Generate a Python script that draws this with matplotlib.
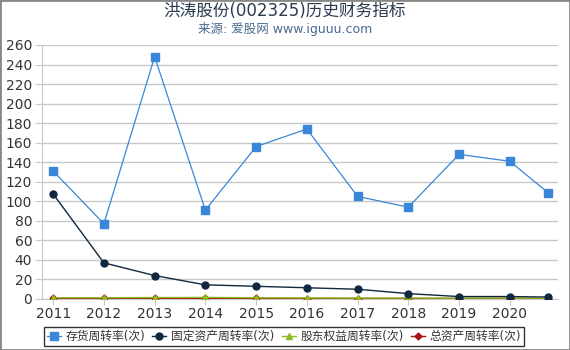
import matplotlib.pyplot as plt
from matplotlib.patches import Rectangle

plt.rcParams['font.family'] = ['DejaVu Sans', 'Noto Sans CJK SC']

years = ['2011', '2012', '2013', '2014', '2015', '2016', '2017', '2018', '2019', '2020']
# last point sits at roughly 2020-09-30
x_pos = [0, 1, 2, 3, 4, 5, 6, 7, 8, 9, 9.75]

inventory = [131, 77, 248, 91, 156, 174, 105, 94, 148, 141, 109]
fixed_assets = [107.5, 37, 24, 14.5, 13, 11.5, 10, 5.5, 2.5, 2.5, 2]
equity = [1.3, 1.3, 1.5, 1.6, 1.3, 1.1, 1.0, 1.0, 0.9, 0.9, 0.8]
total_assets = [0.6, 0.6, 0.7, 0.7, 0.6, 0.5, 0.5, 0.5, 0.5, 0.5, 0.4]

fig = plt.figure(figsize=(5.7, 3.5), dpi=100)
ax = fig.add_axes([42 / 570, 51 / 350, (558 - 42) / 570, (299 - 45) / 350])

ax.plot(x_pos, total_assets, color='#aa1111', marker='D', markersize=3.5, lw=1,
        label='总资产周转率(次)', zorder=3)
ax.plot(x_pos, equity, color='#8dbb22', marker='^', markersize=5, lw=1,
        label='股东权益周转率(次)', zorder=4)
ax.plot(x_pos, fixed_assets, color='#102840', marker='o', markersize=5, lw=1,
        label='固定资产周转率(次)', zorder=5)
ax.plot(x_pos, inventory, color='#3a86d8', marker='s', markersize=5.5, lw=0.9,
        label='存货周转率(次)', zorder=6)

ax.set_xlim(-0.22, 9.95)
ax.set_ylim(0, 260)
ax.set_yticks(range(0, 261, 20))
ax.set_xticks(range(10))
ax.set_xticklabels(years)
ax.grid(axis='y', color='#c8c8c8', lw=1)
ax.set_axisbelow(True)
for s in ['top', 'right']:
    ax.spines[s].set_visible(False)
ax.spines['left'].set_color('#c8c8c8')
ax.spines['bottom'].set_color('#c8c8c8')
ax.tick_params(axis='y', length=5, color='#c8c8c8', labelsize=10, labelcolor='#333333', pad=2)
ax.tick_params(axis='x', length=4, color='#c8c8c8', labelsize=10, labelcolor='#333333', pad=2)

fig.text(0.5, 0.97, '洪涛股份(002325)历史财务指标', ha='center', va='center',
         fontsize=12, color='#2a3a50')
fig.text(0.5, 0.918, '来源: 爱股网 www.iguuu.com', ha='center', va='center',
         fontsize=9, color='#4a6a90')

handles, labels = ax.get_legend_handles_labels()
order = [3, 2, 1, 0]
leg = fig.legend([handles[i] for i in order], [labels[i] for i in order],
                 loc='center', bbox_to_anchor=(0.498, 0.039), ncol=4, fontsize=8.5,
                 frameon=True, fancybox=False, handlelength=1.2, handletextpad=0.4,
                 columnspacing=0.6, borderpad=0.25, labelcolor='#333333')
leg.get_frame().set_edgecolor('black')
leg.get_frame().set_linewidth(1)

fig.patches.append(Rectangle((0, 0), 1, 1, transform=fig.transFigure, fill=False,
                             edgecolor='#888888', lw=2))

fig.savefig('out.png', dpi=100)
